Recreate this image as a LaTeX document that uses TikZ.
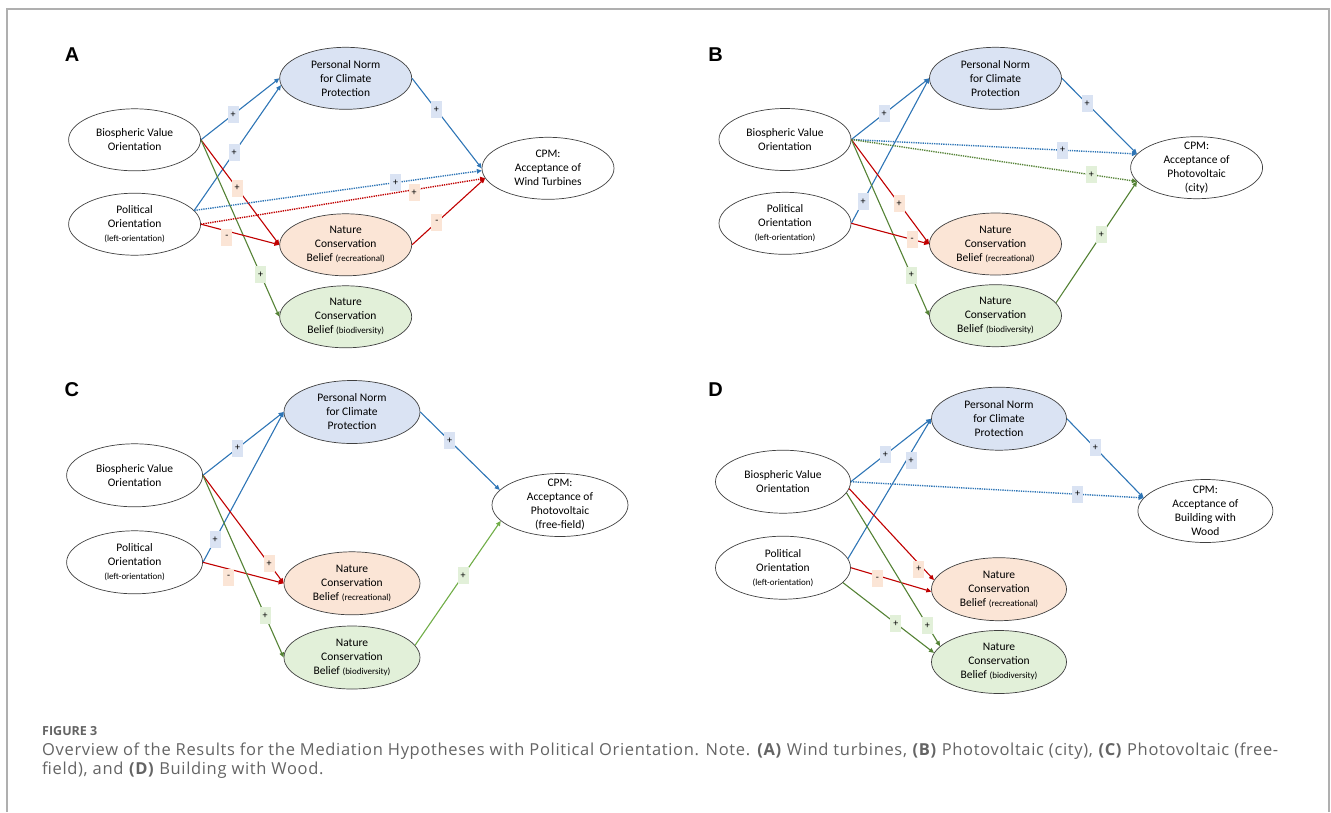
\documentclass[tikz,border=0pt]{standalone}
\usepackage{fontspec}
\setmainfont{Carlito}
\newfontfamily\capfont[LetterSpace=4]{Open Sans}
\newfontfamily\figfont{Open Sans}
\newfontfamily\panelfont{Liberation Sans}
\usetikzlibrary{shapes.geometric,arrows.meta}
\definecolor{lnblue}{RGB}{46,117,182}
\definecolor{lnred}{RGB}{192,0,0}
\definecolor{lngreen}{RGB}{84,130,53}
\definecolor{lnlgreen}{RGB}{112,173,71}
\definecolor{fblue}{RGB}{218,227,243}
\definecolor{forange}{RGB}{251,229,214}
\definecolor{fgreen}{RGB}{226,240,217}
\definecolor{capgray}{RGB}{100,100,100}
\definecolor{framegray}{RGB}{175,175,175}
\definecolor{ellgray}{RGB}{64,64,64}
\newcommand{\sm}[1]{{\fontsize{9}{10}\selectfont #1}}
\begin{document}
\begin{tikzpicture}[x=1pt,y=-1pt,
  ell/.style={ellipse, draw=ellgray, line width=0.7pt, inner sep=0pt, align=center, font=\fontsize{11.5}{14}\selectfont},
  ellA/.style={ell, minimum width=132pt, minimum height=62pt},
  ellC/.style={ell, minimum width=136pt, minimum height=63pt},
  ellD/.style={ell, minimum width=135pt, minimum height=63pt},
  four/.style={inner sep=-5pt},
  arr/.style={line width=1.1pt, -{Triangle[length=5pt,width=4.5pt]}},
  bl/.style={arr, draw=lnblue},
  rd/.style={arr, draw=lnred},
  gn/.style={arr, draw=lngreen},
  lgn/.style={arr, draw=lnlgreen},
  dotln/.style={line width=1.4pt, dash pattern=on 1.3pt off 1pt},
  lbox/.style={inner sep=0pt, minimum width=11pt, minimum height=17pt, font=\fontsize{10}{10}\selectfont, text=black},
  lb/.style={lbox, fill=fblue},
  lo/.style={lbox, fill=forange},
  lg/.style={lbox, fill=fgreen},
  plbl/.style={font=\panelfont\bfseries\fontsize{20}{20}\selectfont, inner sep=0pt}
]
\useasboundingbox (0,0) rectangle (1331,812);
\draw[framegray, line width=1.5pt] (7,812) -- (7,9) -- (1329,9) -- (1329,812);

% ---------------- Panel A
\node[plbl] (labA) at (72,55) {A};
\node[ellA, fill=fblue] (aPN) at (345.7,78.3) {Personal Norm\\for Climate\\Protection};
\node[ellA] (aBV) at (134.6,139.8) {Biospheric Value\\Orientation};
\node[ellA] (aPO) at (134.6,224.2) {Political\\Orientation\\\sm{(left-orientation)}};
\node[ellA] (aCPM) at (548,168.3) {CPM:\\Acceptance of\\Wind Turbines};
\node[ellA, fill=forange] (aRec) at (345.7,244.8) {Nature\\Conservation\\Belief \sm{(recreational)}};
\node[ellA, fill=fgreen] (aBio) at (345.7,316.8) {Nature\\Conservation\\Belief \sm{(biodiversity)}};
\draw[bl] (aBV.east) -- node[lb,pos=0.41]{+} (aPN.west);
\draw[bl] (aPO.13) -- node[lb,pos=0.46]{+} (aPN.186);
\draw[rd] (aBV.east) -- node[lo,pos=0.46]{+} (aRec.west);
\draw[gn] (aBV.east) -- node[lg,pos=0.76]{+} (aBio.west);
\draw[rd] (aPO.east) -- node[lo,pos=0.33,yshift=-6pt]{-} (aRec.west);
\draw[bl,dotln] (aPO.13) -- node[lb,pos=0.70]{+} (aCPM.182);
\draw[rd,dotln] (aPO.east) -- node[lo,pos=0.75,yshift=-3pt]{+} (aCPM.189);
\draw[bl] (aPN.east) -- node[lb,pos=0.35]{+} (aCPM.west);
\draw[rd] (aRec.east) -- node[lo,pos=0.34]{-} (aCPM.189);

% ---------------- Panel B
\node[plbl] (labB) at (715.6,55) {B};
\node[ellA, fill=fblue] (bPN) at (995.5,78.3) {Personal Norm\\for Climate\\Protection};
\node[ellA] (bBV) at (785,139.5) {Biospheric Value\\Orientation};
\node[ellA] (bPO) at (785,223.3) {Political\\Orientation\\\sm{(left-orientation)}};
\node[ellA, four] (bCPM) at (1196.6,167.7) {CPM:\\Acceptance of\\Photovoltaic\\(city)};
\node[ellA, fill=forange] (bRec) at (995.5,244) {Nature\\Conservation\\Belief \sm{(recreational)}};
\node[ellA, fill=fgreen] (bBio) at (995.5,315.7) {Nature\\Conservation\\Belief \sm{(biodiversity)}};
\draw[bl] (bBV.east) -- node[lb,pos=0.42]{+} (bPN.west);
\draw[bl] (bPO.east) -- node[lb,pos=0.15]{+} (bPN.west);
\draw[bl,dotln] (bBV.east) -- node[lb,pos=0.74]{+} (bCPM.167);
\draw[gn,dotln] (bBV.east) -- node[lg,pos=0.84]{+} (bCPM.193);
\draw[rd] (bBV.east) -- node[lo,pos=0.615]{+} (bRec.west);
\draw[gn] (bBV.east) -- node[lg,pos=0.77]{+} (bBio.west);
\draw[rd] (bPO.east) -- node[lo,pos=0.78]{-} (bRec.west);
\draw[bl] (bPN.east) -- node[lb,pos=0.335]{+} (bCPM.167);
\draw[gn] (bBio.12) -- node[lg,pos=0.56]{+} (bCPM.193);

% ---------------- Panel C
\node[plbl] (labC) at (71.8,389.3) {C};
\node[ellC, fill=fblue] (cPN) at (352,412) {Personal Norm\\for Climate\\Protection};
\node[ellC] (cBV) at (134.6,475.3) {Biospheric Value\\Orientation};
\node[ellC] (cPO) at (134.6,562.3) {Political\\Orientation\\\sm{(left-orientation)}};
\node[ellC, four] (cCPM) at (560,505) {CPM:\\Acceptance of\\Photovoltaic\\(free-field)};
\node[ellC, fill=forange] (cRec) at (352,583.3) {Nature\\Conservation\\Belief \sm{(recreational)}};
\node[ellC, fill=fgreen] (cBio) at (352,657.5) {Nature\\Conservation\\Belief \sm{(biodiversity)}};
\draw[bl] (cBV.east) -- node[lb,pos=0.43]{+} (cPN.west);
\draw[bl] (cPO.east) -- node[lb,pos=0.15]{+} (cPN.west);
\draw[rd] (cBV.east) -- node[lo,pos=0.82]{+} (cRec.west);
\draw[rd] (cPO.east) -- node[lo,pos=0.32,yshift=-8pt]{-} (cRec.west);
\draw[gn] (cBV.east) -- node[lg,pos=0.77]{+} (cBio.west);
\draw[bl] (cPN.east) -- node[lb,pos=0.37]{+} (cCPM.166);
\draw[lgn] (cBio.11) -- node[lg,pos=0.56]{+} (cCPM.195);

% ---------------- Panel D
\node[plbl] (labD) at (715.6,389.3) {D};
\node[ellD, fill=fblue] (dPN) at (999,418.7) {Personal Norm\\for Climate\\Protection};
\node[ellD] (dBV) at (783,481.7) {Biospheric Value\\Orientation};
\node[ellD] (dPO) at (783,567.7) {Political\\Orientation\\\sm{(left-orientation)}};
\node[ellD, four] (dCPM) at (1205.4,511) {CPM:\\Acceptance of\\Building with\\Wood};
\node[ellD, fill=forange] (dRec) at (999,589.2) {Nature\\Conservation\\Belief \sm{(recreational)}};
\node[ellD, fill=fgreen] (dBio) at (999,662) {Nature\\Conservation\\Belief \sm{(biodiversity)}};
\draw[bl] (dBV.east) -- node[lb,pos=0.43]{+} (dPN.west);
\draw[bl] (dPO.8) -- node[lb,pos=0.7,xshift=5pt]{+} (dPN.west);
\draw[bl,dotln] (dBV.east) -- node[lb,pos=0.775]{+} (dCPM.168);
\draw[bl] (dPN.east) -- node[lb,pos=0.37]{+} (dCPM.168);
\draw[rd] (dBV.-6) -- node[lo,pos=0.88,xshift=-5pt]{+} (dRec.172);
\draw[rd] (dPO.east) -- node[lo,pos=0.33,yshift=-3pt]{-} (dRec.182);
\draw[gn] (dBV.-10) -- node[lg,pos=0.865]{+} (dBio.165);
\draw[gn] (dPO.-14) -- node[lg,pos=0.58]{+} (dBio.172);

% ---------------- Caption
\node[anchor=base west, inner sep=0pt, font=\figfont\bfseries\fontsize{12.5}{14}\selectfont, text=capgray] (figlbl) at (42,735) {FIGURE 3};
\node[anchor=base west, inner sep=0pt, font=\capfont\fontsize{16.5}{19}\selectfont, text=capgray] (cap1) at (42,755) {Overview of the Results for the Mediation Hypotheses with Political Orientation. Note. \textbf{(A)} Wind turbines, \textbf{(B)} Photovoltaic (city), \textbf{(C)} Photovoltaic (free-};
\node[anchor=base west, inner sep=0pt, font=\capfont\fontsize{16.5}{19}\selectfont, text=capgray] (cap2) at (42,774) {field), and \textbf{(D)} Building with Wood.};
\end{tikzpicture}
\end{document}
